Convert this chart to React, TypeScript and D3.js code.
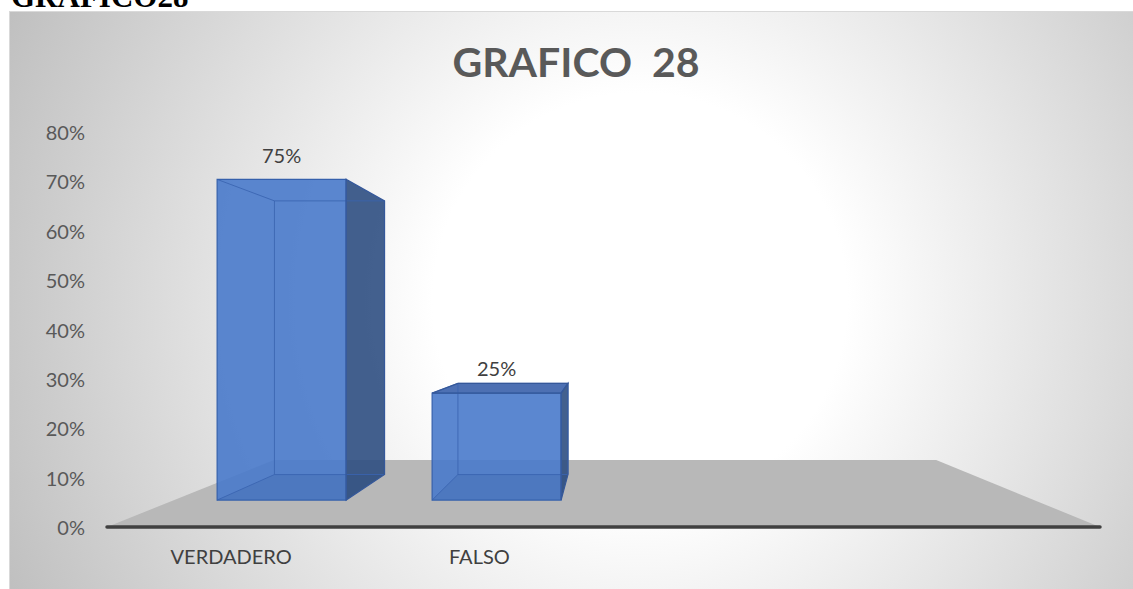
import React from "react";
import * as d3 from "d3";

const heading = "GRAFICO28";
const title = "GRAFICO  28";
const categories = ["VERDADERO", "FALSO", "", ""];
const values: (number | null)[] = [0.75, 0.25, null, null];
const valueLabels = ["75%", "25%", "", ""];
const yTicks = [0, 0.1, 0.2, 0.3, 0.4, 0.5, 0.6, 0.7, 0.8];
const yTickLabels = ["0%", "10%", "20%", "30%", "40%", "50%", "60%", "70%", "80%"];

const W = 1133;
const H = 589;
const FONT = "Lato, 'Open Sans', sans-serif";

export default function App() {
  const x = d3
    .scaleBand<string>()
    .domain(categories.map((_, i) => String(i)))
    .range([107, 1100])
    .paddingInner(0.4)
    .paddingOuter(0.2);
  const y = d3.scaleLinear().domain([0, 0.8]).range([527, 132]);
  const bw = x.bandwidth();

  // perspective projection
  const vp = { x: 608, y: 326 };
  const S_AXIS = 1;
  const S_FRONT = 0.866;
  const S_BACK = 0.739;
  const S_FLOOR_BACK = 0.667;
  const P = (px: number, py: number, s: number): [number, number] => [
    vp.x + (px - vp.x) * s,
    vp.y + (py - vp.y) * s,
  ];
  const poly = (pts: [number, number][]) =>
    "M" + pts.map((p) => `${p[0].toFixed(2)},${p[1].toFixed(2)}`).join("L") + "Z";
  const line = (a: [number, number], b: [number, number]) =>
    `M${a[0].toFixed(2)},${a[1].toFixed(2)}L${b[0].toFixed(2)},${b[1].toFixed(2)}`;

  const [r0, r1] = x.range();
  const y0 = y(0);
  const floor = [P(r0, y0, S_AXIS), P(r1, y0, S_AXIS), P(r1, y0, S_FLOOR_BACK), P(r0, y0, S_FLOOR_BACK)];

  const bars = values.map((v, i) => {
    if (v == null) return null;
    const x0 = x(String(i))!;
    const x1 = x0 + bw;
    const yt = y(v);
    const fTL = P(x0, yt, S_FRONT), fTR = P(x1, yt, S_FRONT), fBR = P(x1, y0, S_FRONT), fBL = P(x0, y0, S_FRONT);
    const bTL = P(x0, yt, S_BACK), bTR = P(x1, yt, S_BACK), bBR = P(x1, y0, S_BACK), bBL = P(x0, y0, S_BACK);
    const showSide = fTR[0] < vp.x;
    const showTop = yt > vp.y;
    const lab = P(x0 + bw / 2, y(v + 0.039), S_FRONT);
    return (
      <g key={i}>
        <path d={poly([fTL, fTR, fBR, fBL])} fill="rgb(73,122,203)" fillOpacity={0.9} />
        {showSide && <path d={poly([fTR, bTR, bBR, fBR])} fill="rgb(47,79,130)" fillOpacity={0.9} />}
        {showTop && <path d={poly([fTL, fTR, bTR, bTL])} fill="rgb(62,100,172)" fillOpacity={0.92} />}
        <path d={poly([fBL, fBR, bBR, bBL])} fill="#1f3f7f" fillOpacity={0.12} />
        <path
          d={poly([bTL, bTR, bBR, bBL]) + line(fTL, bTL) + line(fBL, bBL)}
          fill="none"
          stroke="#3a64b0"
          strokeOpacity={0.85}
          strokeWidth={1}
        />
        <path d={poly([fTL, fTR, fBR, fBL])} fill="none" stroke="#3560ac" strokeWidth={1.2} />
        {showSide && <path d={poly([fTR, bTR, bBR, fBR])} fill="none" stroke="#35589a" strokeWidth={1.2} />}
        {showTop && <path d={poly([fTL, fTR, bTR, bTL])} fill="none" stroke="#35589a" strokeWidth={1.2} />}
        <text x={lab[0]} y={lab[1]} textAnchor="middle" fontFamily={FONT} fontSize={20} fill="#404040">
          {valueLabels[i]}
        </text>
      </g>
    );
  });

  return (
    <svg width={W} height={H} style={{ position: "absolute", left: 0, top: 0 }}>
      <defs>
        <radialGradient id="bg" gradientUnits="userSpaceOnUse" cx={640} cy={300} r={690}>
          <stop offset="0" stopColor="#ffffff" />
          <stop offset="0.3" stopColor="#ffffff" />
          <stop offset="1" stopColor="#c0c0c0" />
        </radialGradient>
      </defs>
      <rect x={0} y={0} width={W} height={H} fill="#ffffff" />
      <text x={11} y={7} fontFamily="'Liberation Serif', 'Times New Roman', serif" fontWeight="bold" fontSize={31} fill="#000">
        {heading}
      </text>
      <rect x={9.5} y={11.5} width={1130} height={590} fill="url(#bg)" stroke="#d9d9d9" strokeWidth={1} />
      <text
        x={576}
        y={77}
        textAnchor="middle"
        fontFamily={FONT}
        fontWeight="bold"
        fontSize={41}
        fill="#595959"
        style={{ whiteSpace: "pre" }}
      >
        {title}
      </text>
      <path d={poly(floor)} fill="#b8b8b8" />
      <line x1={r0} x2={r1} y1={y0} y2={y0} stroke="#404040" strokeWidth={3.5} strokeLinecap="round" />
      {yTicks.map((t, i) => (
        <text
          key={t}
          x={85}
          y={y(t)}
          textAnchor="end"
          dominantBaseline="central"
          fontFamily={FONT}
          fontSize={20}
          fill="#595959"
        >
          {yTickLabels[i]}
        </text>
      ))}
      {categories.map((c, i) => (
        <text
          key={i}
          x={x(String(i))! + bw / 2}
          y={564}
          textAnchor="middle"
          fontFamily={FONT}
          fontSize={20}
          fill="#404040"
        >
          {c}
        </text>
      ))}
      {bars}
    </svg>
  );
}
